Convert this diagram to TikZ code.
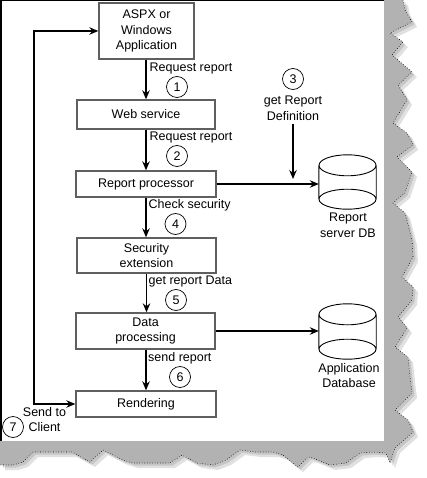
\documentclass[tikz,border=0pt]{standalone}
\usepackage{fontspec}
\setmainfont{Liberation Sans}
\usetikzlibrary{arrows.meta}
\definecolor{boxgray}{RGB}{95,95,95}
\definecolor{shadegray}{RGB}{178,178,178}
\newcommand\tornpath{(403,0) -- (405,10) -- (412,22) -- (390,33) -- (403,42) -- (392,55) -- (412,72) -- (398,85) -- (407,100) -- (393,123) -- (407,133) -- (413,145) -- (397,157) -- (412,172) -- (405,193) -- (393,203) -- (405,213) -- (412,240) -- (413,257) -- (402,277) -- (413,287) -- (412,300) -- (398,317) -- (407,328) -- (395,347) -- (408,357) -- (410,377) -- (412,393) -- (395,410) -- (408,420) -- (413,432) -- (395,448) -- (390,463) -- (386,453) -- (373,452) -- (360,453) -- (346,463) -- (330,465) -- (313,458) -- (308,457) -- (298,467) -- (283,455) -- (273,452) -- (256,452) -- (240,450) -- (226,460) -- (213,465) -- (197,463) -- (182,455) -- (170,463) -- (133,463) -- (123,460) -- (103,450) -- (90,462) -- (72,452) -- (33,452) -- (23,462) -- (13,465) -- (0,465)}
\newcommand\dbdraw[1]{%
\draw[dbline] ([yshift=-10.5pt]#1.north) ellipse [x radius=28.5pt, y radius=10.5pt]
  ([yshift=10pt]#1.south) ellipse [x radius=28.5pt, y radius=10pt]
  ([yshift=-10.5pt]#1.north west) -- ([yshift=10pt]#1.south west)
  ([yshift=-10.5pt]#1.north east) -- ([yshift=10pt]#1.south east);}

\begin{document}
\begin{tikzpicture}[x=1pt,y=-1pt,>={Stealth[length=9pt,width=7.5pt,inset=3pt]},
  font=\fontsize{12.5}{15.5}\selectfont,
  stepbox/.style={draw=boxgray,line width=1.4pt,align=center,inner sep=0pt},
  num/.style={draw,circle,line width=0.7pt,minimum size=21pt,inner sep=0pt},
  lbl/.style={anchor=west,inner sep=0pt},
  dbnode/.style={minimum width=57pt,minimum height=54pt,inner sep=0pt},
  dbline/.style={line width=0.9pt},
  dline/.style={line width=1.1pt}]
\useasboundingbox (0,0) rectangle (426,478);
\begin{scope}[shift={(5,5)}]
\fill[black,opacity=0.12] (384,0) -- \tornpath -- (0,441) -- (384,441) -- cycle;
\end{scope}
\begin{scope}[shift={(2.5,2.5)}]
\fill[black,opacity=0.12] (384,0) -- \tornpath -- (0,441) -- (384,441) -- cycle;
\end{scope}
\fill[white] (0,0) rectangle (384,441);
\fill[shadegray] (384,0) -- \tornpath -- (0,441) -- (384,441) -- cycle;
\draw[dotted,line width=0.6pt] \tornpath;
\draw[line width=1.5pt] (384,0.75) -- (0.75,0.75) -- (0.75,441);

\node[stepbox,minimum width=95pt,minimum height=56pt] (app) at (146.5,31) {ASPX or\\Windows\\Application};
\node[stepbox,minimum width=138pt,minimum height=29pt] (web) at (146,114.5) {Web service};
\node[stepbox,minimum width=140pt,minimum height=26pt] (proc) at (146,184) {Report processor};
\node[stepbox,minimum width=139pt,minimum height=35pt] (sec) at (146.5,255.5) {Security\\extension};
\node[stepbox,minimum width=139pt,minimum height=36pt] (data) at (145.5,331) {Data\\processing};
\node[stepbox,minimum width=140pt,minimum height=26pt] (rend) at (146,404) {Rendering};

\node[dbnode] (rsdb) at (347.5,182) {};
\node[dbnode,minimum height=55pt] (appdb) at (347.5,331.5) {};
\dbdraw{rsdb}
\dbdraw{appdb}
\node[align=center] (rsdbtxt) at (348,225.5) {Report\\server DB};
\node[align=center] (appdbtxt) at (349,375.5) {Application\\Database};

\node[lbl] (l1) at (149.5,68) {Request report};
\node[num] (n1) at (177,87) {1};
\node[lbl] (l2) at (149.5,137) {Request report};
\node[num] (n2) at (177,156) {2};
\node[num] (n3) at (293,79) {3};
\node[align=center] (def) at (293,108.5) {get Report\\Definition};
\coordinate (defend) at (293,179);
\node[lbl] (l4) at (148.5,205) {Check security};
\node[num] (n4) at (175.5,224) {4};
\node[lbl] (l5) at (148.5,281) {get report Data};
\node[num] (n5) at (176,300) {5};
\node[lbl] (l6) at (148,358) {send report};
\node[num] (n6) at (180,377) {6};
\node[align=center] (l7) at (44.5,419.5) {Send to\\Client};
\node[num] (n7) at (13,427) {7};
\coordinate (ret) at (34,0);

\draw[dline,->] (app.south -| web.north) -- (web.north);
\draw[dline,->] (web) -- (proc);
\draw[dline,->] (proc.south) -- (proc.south |- sec.north);
\draw[dline,->] (sec.south) -- (sec.south |- data.north);
\draw[dline,->] (data.south -| rend.north) -- (rend.north);
\draw[dline,->] (proc.east) -- (proc.east -| rsdb.west);
\draw[dline,->] (data.east) -- (data.east -| appdb.west);
\draw[dline,->] (def) -- (defend);
\draw[dline,<->] (app.west) -| (ret |- rend.west) -- (rend.west);
\end{tikzpicture}
\end{document}
